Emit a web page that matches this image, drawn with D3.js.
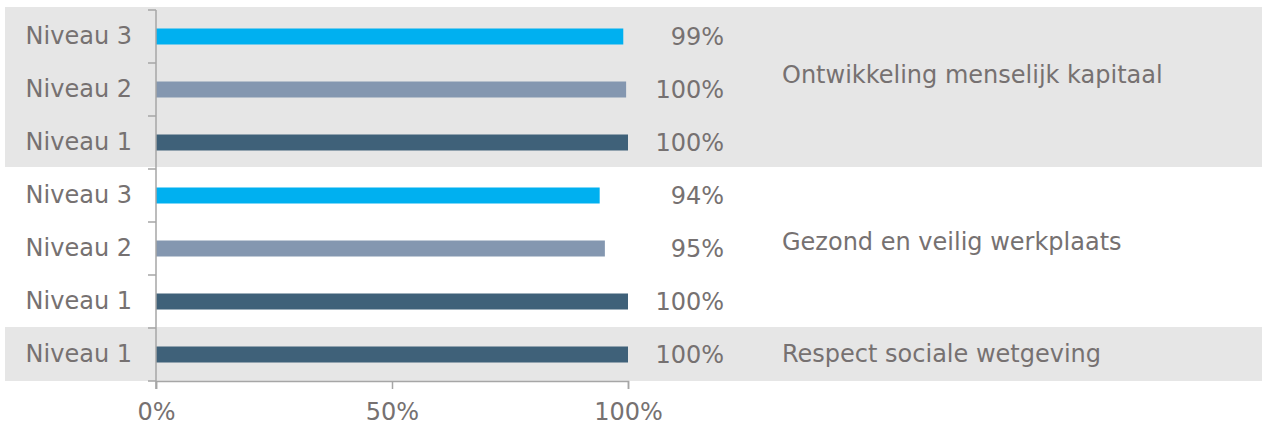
<!DOCTYPE html>
<html>
<head>
<meta charset="utf-8">
<script src="https://cdn.jsdelivr.net/npm/d3@7"></script>
<style>
  body { margin: 0; background: #fff; }
  text { font-family: "DejaVu Sans", Verdana, sans-serif; fill: #767171; }
</style>
</head>
<body>
<div id="chart"></div>
<script>
// Data
const groups = ["Ontwikkeling menselijk kapitaal", "Gezond en veilig werkplaats", "Respect sociale wetgeving"];
const rowGroup = [0, 0, 0, 1, 1, 1, 2];
const rowLevel = ["Niveau 3", "Niveau 2", "Niveau 1", "Niveau 3", "Niveau 2", "Niveau 1", "Niveau 1"];
const rowValue = [0.99, 0.996, 1.0, 0.94, 0.951, 1.0, 1.0];
const xTicks = [0, 0.5, 1];

const W = 1262, H = 425;
const fontSize = "24px";
const levelColor = { "Niveau 3": "#00b0f0", "Niveau 2": "#8497b0", "Niveau 1": "#3f6179" };
const bandFill = ["#e6e6e6", "#ffffff", "#e6e6e6"];
const groupLabelDy = [-15, -7, -1];

const svg = d3.select("#chart")
    .append("svg")
    .attr("width", W)
    .attr("height", H);

const rows = rowLevel.map((d, i) => ({ i, level: d, group: rowGroup[i], value: rowValue[i] }));

const x = d3.scaleLinear().domain([0, 1]).range([156, 628]);
const y = d3.scaleBand().domain(rows.map(d => d.i)).range([10, 381]).paddingInner(0).paddingOuter(0);

// Bandes de fond par groupe
groups.forEach((g, gi) => {
    const gr = rows.filter(d => d.group === gi);
    const top = y(gr[0].i), bottom = y(gr[gr.length - 1].i) + y.bandwidth();
    svg.append("rect")
        .attr("x", 5)
        .attr("y", top - (gi === 0 ? 3 : 1))
        .attr("width", W - 5)
        .attr("height", bottom - top + 1)
        .attr("fill", bandFill[gi]);
    svg.append("text")
        .attr("x", 782)
        .attr("y", (top + bottom) / 2 + groupLabelDy[gi])
        .attr("dy", "0.35em")
        .style("font-size", fontSize)
        .text(g);
});

// Bars
const barH = 16;
svg.selectAll(".bar")
    .data(rows)
    .enter()
    .append("rect")
    .attr("class", "bar")
    .attr("x", x(0))
    .attr("y", d => y(d.i) + y.bandwidth() / 2 - barH / 2)
    .attr("width", d => x(d.value) - x(0))
    .attr("height", barH)
    .attr("fill", d => levelColor[d.level]);

// Value labels
svg.selectAll(".label")
    .data(rows)
    .enter()
    .append("text")
    .attr("class", "label")
    .attr("x", 724)
    .attr("y", d => y(d.i) + y.bandwidth() / 2)
    .attr("dy", "0.35em")
    .attr("text-anchor", "end")
    .style("font-size", fontSize)
    .text(d => Math.round(d.value * 100) + "%");

// Y axis
const yAxis = svg.append("g")
    .attr("transform", `translate(${x(0)},0)`)
    .call(d3.axisLeft(y).tickSize(0).tickFormat(i => rowLevel[i]).tickPadding(24));
yAxis.select(".domain").remove();
yAxis.selectAll("text").style("font-size", fontSize).attr("fill", null);

const ySplits = d3.range(rows.length + 1).map(k => 10 + k * y.step());
svg.selectAll(".ysplit")
    .data(ySplits)
    .enter()
    .append("line")
    .attr("x1", x(0) - 8).attr("x2", x(0))
    .attr("y1", d => d).attr("y2", d => d)
    .attr("stroke", "#a6a6a6").attr("stroke-width", 1.5);
svg.append("line")
    .attr("x1", x(0)).attr("x2", x(0))
    .attr("y1", 10).attr("y2", 389)
    .attr("stroke", "#a6a6a6").attr("stroke-width", 1.5);

// X axis
const xAxis = svg.append("g")
    .attr("transform", "translate(0,381)")
    .call(d3.axisBottom(x).tickValues(xTicks).tickFormat(d3.format(".0%")).tickSize(8).tickPadding(14));
xAxis.select(".domain").attr("stroke", "#a6a6a6").attr("stroke-width", 1.5);
xAxis.selectAll("line").attr("stroke", "#a6a6a6").attr("stroke-width", 1.5);
xAxis.selectAll("text").style("font-size", fontSize).attr("fill", null);
</script>
</body>
</html>
